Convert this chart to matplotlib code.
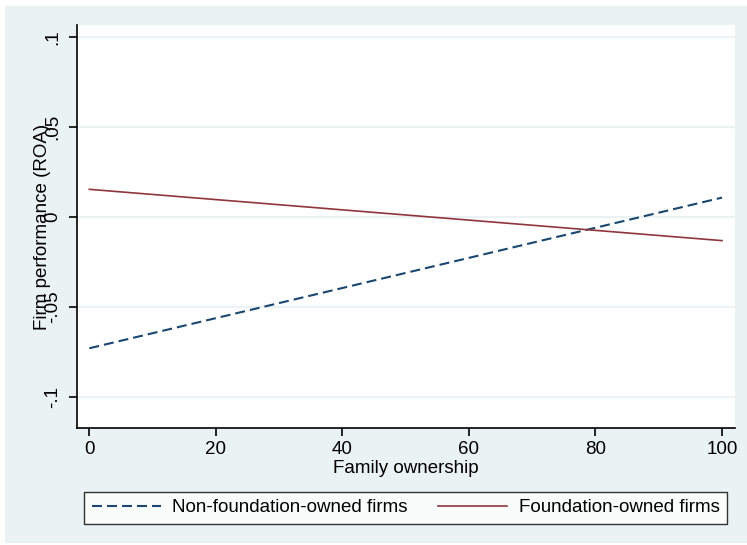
import numpy as np
import matplotlib.pyplot as plt
from matplotlib.patches import Rectangle

## datos (rectas ajustadas)
family_own = [0, 100]
roa_nonfound = [-0.0731, 0.0106]
roa_found = [0.0152, -0.0133]

x_ticks = [0, 20, 40, 60, 80, 100]
y_ticks = [-0.1, -0.05, 0, 0.05, 0.1]
y_tick_labels = ["-.1", "-.05", "0", ".05", ".1"]

navy = "#1a476f"
maroon = "#90353b"
bg = "#eaf2f3"

plt.rcParams['font.family'] = ['Liberation Sans', 'DejaVu Sans']
fs = 13.5

W, H = 747, 545
fig = plt.figure(figsize=(W / 100, H / 100), dpi=100)
fig.patch.set_facecolor("white")
fig.patches.append(Rectangle((5 / W, 2 / H), 742 / W, 537 / H, transform=fig.transFigure,
                             facecolor=bg, edgecolor="none", zorder=-10))

## CONFIGURACION DE GRAFICO
ax = fig.add_axes([77 / W, (H - 428) / H, (735 - 77) / W, (428 - 25) / H])
ax.set_facecolor("white")

ax.plot(family_own, roa_nonfound, color=navy, lw=1.5, linestyle=(0, (4.8, 2.4)),
        label="Non-foundation-owned firms")
ax.plot(family_own, roa_found, color=maroon, lw=1.2, label="Foundation-owned firms")

ax.set_xlim(-1.95, 102.05)
ax.set_ylim(-0.1174, 0.1065)

ax.set_xticks(x_ticks)
ax.set_yticks(y_ticks)
ax.set_yticklabels(y_tick_labels, rotation=90, va="center")
ax.tick_params(axis="both", labelsize=fs, length=6, width=1.2, color="black")
ax.tick_params(axis="y", pad=5.5)
ax.tick_params(axis="x", pad=3)

ax.grid(axis="y", color=bg, lw=1.5)
ax.set_axisbelow(True)

for s in ["top", "right"]:
    ax.spines[s].set_visible(False)
for s in ["left", "bottom"]:
    ax.spines[s].set_linewidth(1.2)

ax.set_xlabel("Family ownership", fontsize=fs, labelpad=2)
ax.set_ylabel("Firm performance (ROA)", fontsize=fs, labelpad=-5)

leg = fig.legend(loc="lower left", bbox_to_anchor=(84 / W, (H - 524) / H, (727 - 84) / W, 34 / H),
                 mode="expand", ncol=2, fontsize=fs, frameon=True, fancybox=False,
                 handlelength=3.7, borderaxespad=0, handletextpad=0.6)
leg.get_frame().set_edgecolor("black")
leg.get_frame().set_linewidth(1.0)

plt.savefig("out.png", dpi=100, facecolor=fig.get_facecolor())
